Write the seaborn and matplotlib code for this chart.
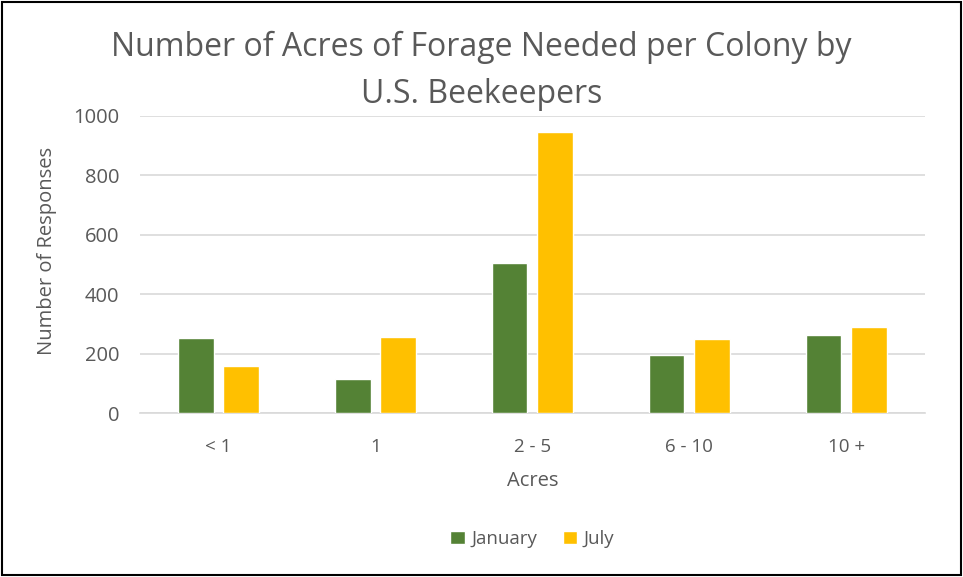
import pandas as pd
import matplotlib.pyplot as plt
import seaborn as sns

# Values
acres = ['< 1', '1', '2 - 5', '6 - 10', '10 +']
january = [252, 113, 504, 196, 263]
july = [157, 255, 946, 249, 291]
months = ['January', 'July']
month_colors = ['#548235', '#FFC000']
y_ticks = [0, 200, 400, 600, 800, 1000]

df = pd.DataFrame({
    'Acres': acres * 2,
    'Responses': january + july,
    'Month': [months[0]] * len(acres) + [months[1]] * len(acres),
})

sns.set_style('white')
plt.rcParams['font.family'] = ['Open Sans', 'DejaVu Sans']
text_color = '#595959'

fig = plt.figure(figsize=(9.63, 5.77), dpi=100)
ax = fig.add_axes([0.1454, 0.2842, 0.815, 0.5148])

sns.barplot(data=df, x='Acres', y='Responses', hue='Month', order=acres,
            hue_order=months, palette=month_colors, width=0.575, gap=0.22,
            saturation=1, ax=ax, zorder=3)

ax.set_ylim(0, 1000)
ax.set_yticks(y_ticks)
ax.grid(axis='y', color='#D9D9D9', linewidth=1.2, zorder=0)
for side in ['top', 'right', 'left']:
    ax.spines[side].set_visible(False)
ax.spines['bottom'].set_color('#D9D9D9')
ax.spines['bottom'].set_linewidth(1.2)
ax.tick_params(axis='both', length=0, colors=text_color)
ax.tick_params(axis='y', labelsize=14.5, pad=15)
ax.tick_params(axis='x', labelsize=13.5, pad=18)

ax.set_xlabel('Acres', fontsize=14.5, color=text_color)
ax.set_ylabel('Number of Responses', fontsize=14.5, color=text_color)
ax.xaxis.set_label_coords(0.5, -0.195)
ax.yaxis.set_label_coords(-0.106, 0.544)

fig.suptitle('Number of Acres of Forage Needed per Colony by\nU.S. Beekeepers',
             fontsize=23, color=text_color, y=0.946, va='top', linespacing=1.55)

ax.legend(loc='center', bbox_to_anchor=(0.5, -0.424), ncol=2, frameon=False,
          fontsize=13.5, labelcolor=text_color, handlelength=0.75, handleheight=0.75,
          handletextpad=0.35, columnspacing=1.4)

# black border around the whole figure
fig.patches.append(plt.Rectangle((0.002, 0.003), 0.996, 0.994, transform=fig.transFigure,
                                 fill=False, edgecolor='black', linewidth=1.5))

plt.savefig('out.png', dpi=100)
